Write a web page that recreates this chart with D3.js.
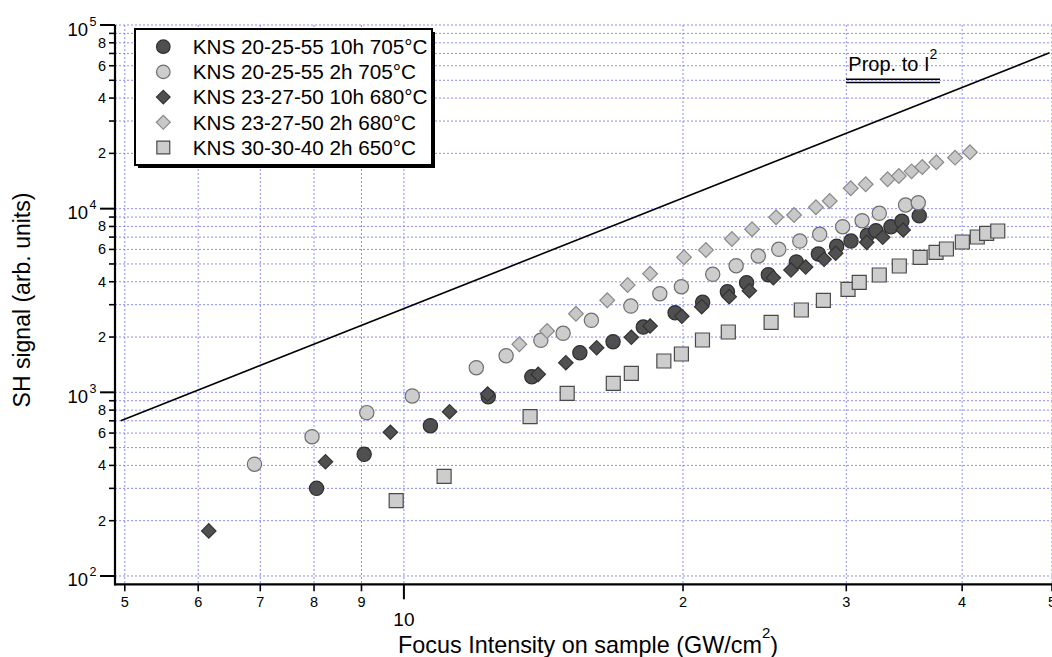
<!DOCTYPE html>
<html>
<head>
<meta charset="utf-8">
<script src="https://cdn.jsdelivr.net/npm/d3@7"></script>
<style>
  html, body { margin: 0; padding: 0; background: #fff; }
  svg { display: block; font-family: "Liberation Sans", Arial, Helvetica, sans-serif; }
</style>
</head>
<body>
<svg id="chart" width="1052" height="657"></svg>
<script>
// ---------------- data ----------------
const seriesNames = [
  "KNS 20-25-55 10h 705°C",
  "KNS 20-25-55 2h 705°C",
  "KNS 23-27-50 10h 680°C",
  "KNS 23-27-50 2h 680°C",
  "KNS 30-30-40 2h 650°C"
];

const darkCircleX = [8.05, 9.06, 10.68, 12.33, 13.74, 15.48, 16.81, 18.12, 19.61, 21.0, 22.33, 23.42, 24.72, 26.5, 27.99, 29.29, 30.35, 31.61, 32.29, 33.52, 34.44, 35.96];
const darkCircleY = [300, 460, 658, 947, 1216, 1643, 1887, 2268, 2714, 3092, 3531, 3953, 4370, 5124, 5665, 6239, 6665, 7161, 7586, 7977, 8534, 9157];

const lightCircleX = [6.90, 7.96, 9.12, 10.21, 11.97, 12.89, 14.05, 14.85, 15.93, 17.57, 18.88, 19.92, 21.53, 22.82, 24.11, 25.37, 26.73, 28.08, 29.73, 31.20, 32.56, 34.76, 35.87];
const lightCircleY = [406, 573, 775, 955, 1362, 1583, 1920, 2096, 2467, 2951, 3443, 3759, 4392, 4891, 5524, 6006, 6665, 7252, 7977, 8597, 9434, 10470, 10780];

const darkDiamondX = [6.16, 8.23, 9.67, 11.20, 12.31, 13.96, 14.95, 16.14, 17.59, 18.43, 19.94, 20.95, 22.43, 23.58, 25.03, 26.15, 27.12, 28.39, 29.22, 31.56, 32.84, 34.55];
const darkDiamondY = [176, 419, 606, 784, 979, 1253, 1450, 1750, 1994, 2297, 2594, 2926, 3317, 3574, 4209, 4634, 4811, 5301, 5715, 6557, 6983, 7652];

const lightDiamondX = [13.32, 14.27, 15.33, 16.57, 17.43, 18.43, 20.05, 21.17, 22.58, 23.74, 25.20, 26.35, 27.82, 28.79, 30.33, 31.48, 33.24, 34.18, 35.28, 36.23, 37.52, 39.30, 40.78];
const lightDiamondY = [1826, 2157, 2680, 3170, 3841, 4425, 5436, 5954, 6836, 7719, 8974, 9237, 10170, 11010, 12910, 13570, 14450, 15060, 15970, 16860, 17880, 18950, 20270];

const squareX = [9.81, 11.05, 13.68, 15.0, 16.82, 17.59, 19.07, 19.92, 20.99, 22.38, 24.89, 26.83, 28.34, 30.13, 30.98, 32.56, 34.22, 36.04, 37.49, 38.47, 40.02, 41.53, 42.51, 43.70];
const squareY = [257, 349, 737, 988, 1120, 1269, 1481, 1617, 1927, 2130, 2406, 2807, 3170, 3638, 3972, 4354, 4873, 5436, 5787, 6030, 6583, 7009, 7340, 7556];

// reference line proportional to I^2
const refLineX = [4.95, 49.7];
const refLineY = [700, 70600];

// axis ticks
const xTickValues = [5, 6, 7, 8, 9, 10, 20, 30, 40, 50];
const xTickLabels = ["5", "6", "7", "8", "9", "10", "2", "3", "4", "5"];
const xMajorTick = [10];
const yDecades = [100, 1000, 10000, 100000];
const yDecadeExp = ["2", "3", "4", "5"];
const yMinorMult = [2, 3, 4, 5, 6, 7, 8, 9];
const yMinorLabeled = [2, 4, 6, 8];

// ---------------- layout ----------------
const svg = d3.select("#chart");
const plot = { left: 115, right: 1052, top: 25, bottom: 584.3 };

const x = d3.scaleLog().domain([4.88, 50]).range([plot.left, plot.right]);
const y = d3.scaleLog().domain([90.1, 100000]).range([plot.bottom, plot.top]);

const gridColor = "#8c8cff";

// grid
const yGridVals = [];
yDecades.forEach(d => {
  yGridVals.push(d);
  if (d < 100000) yMinorMult.forEach(m => yGridVals.push(d * m));
});
svg.append("g").selectAll("line").data(yGridVals).join("line")
  .attr("x1", plot.left).attr("x2", plot.right)
  .attr("y1", d => y(d)).attr("y2", d => y(d))
  .attr("stroke", gridColor).attr("stroke-width", 1)
  .attr("stroke-dasharray", "2,2");
svg.append("g").selectAll("line").data(xTickValues).join("line")
  .attr("x1", d => x(d)).attr("x2", d => x(d))
  .attr("y1", plot.top).attr("y2", plot.bottom)
  .attr("stroke", gridColor).attr("stroke-width", 1)
  .attr("stroke-dasharray", "2,2");

// reference line
svg.append("path")
  .datum(refLineX.map((v, i) => [v, refLineY[i]]))
  .attr("d", d3.line().x(d => x(d[0])).y(d => y(d[1])))
  .attr("fill", "none").attr("stroke", "#000").attr("stroke-width", 1.6);

// axes lines
svg.append("line").attr("x1", plot.left).attr("x2", plot.left)
  .attr("y1", plot.top).attr("y2", plot.bottom + 1)
  .attr("stroke", "#000").attr("stroke-width", 2.2);
svg.append("line").attr("x1", plot.left - 1).attr("x2", plot.right)
  .attr("y1", plot.bottom).attr("y2", plot.bottom)
  .attr("stroke", "#000").attr("stroke-width", 2.2);

// y ticks
const yMinorVals = [];
yDecades.forEach(d => { if (d < 100000) yMinorMult.forEach(m => yMinorVals.push({v: d * m, m})); });
svg.append("g").selectAll("line").data(yDecades).join("line")
  .attr("x1", plot.left - 15).attr("x2", plot.left)
  .attr("y1", d => y(d)).attr("y2", d => y(d))
  .attr("stroke", "#000").attr("stroke-width", 2);
svg.append("g").selectAll("line").data(yMinorVals).join("line")
  .attr("x1", plot.left - 6).attr("x2", plot.left)
  .attr("y1", d => y(d.v)).attr("y2", d => y(d.v))
  .attr("stroke", "#000").attr("stroke-width", 1.6);
svg.append("g").selectAll("text").data(yMinorVals.filter(d => yMinorLabeled.includes(d.m))).join("text")
  .attr("x", plot.left - 9).attr("y", d => y(d.v) + 5)
  .attr("text-anchor", "end").attr("font-size", 14.5).attr("fill", "#000")
  .text(d => d.m);
const decG = svg.append("g").selectAll("g").data(yDecades).join("g");
decG.append("text")
  .attr("x", 88).attr("y", d => y(d) + 10.5)
  .attr("text-anchor", "end").attr("font-size", 18.5)
  .text("10");
decG.append("text")
  .attr("x", 89.5).attr("y", d => y(d) + 0.5)
  .attr("text-anchor", "start").attr("font-size", 12.5)
  .text((d, i) => yDecadeExp[i]);

// x ticks
svg.append("g").selectAll("line").data(xTickValues).join("line")
  .attr("x1", d => x(d)).attr("x2", d => x(d))
  .attr("y1", plot.bottom).attr("y2", d => plot.bottom + (xMajorTick.includes(d) ? 15 : 7))
  .attr("stroke", "#000").attr("stroke-width", d => xMajorTick.includes(d) ? 2 : 1.6);
svg.append("g").selectAll("text").data(xTickValues).join("text")
  .attr("x", d => x(d))
  .attr("y", d => xMajorTick.includes(d) ? 625.7 : 606.5)
  .attr("text-anchor", "middle")
  .attr("font-size", d => xMajorTick.includes(d) ? 19 : 14.5)
  .text((d, i) => xTickLabels[i]);

// axis titles
const xt = svg.append("text").attr("x", 588).attr("y", 653)
  .attr("text-anchor", "middle").attr("font-size", 23.4);
xt.append("tspan").text("Focus Intensity on sample (GW/cm");
xt.append("tspan").attr("dy", -15).attr("font-size", 15).text("2");
xt.append("tspan").attr("dy", 15).text(")");

svg.append("text")
  .attr("transform", "translate(30,300) rotate(-90)")
  .attr("text-anchor", "middle").attr("font-size", 23)
  .text("SH signal (arb. units)");

// annotation
const ann = svg.append("text").attr("x", 848.3).attr("y", 70.7).attr("font-size", 20);
ann.append("tspan").text("Prop. to I");
ann.append("tspan").attr("dy", -12).attr("font-size", 14).text("2");
svg.append("line").attr("x1", 846).attr("x2", 940).attr("y1", 79.3).attr("y2", 79.3)
  .attr("stroke", "#000").attr("stroke-width", 1.5);
svg.append("line").attr("x1", 846).attr("x2", 940).attr("y1", 82.5).attr("y2", 82.5)
  .attr("stroke", "#000").attr("stroke-width", 1.5);

// ---------------- markers ----------------
const styles = [
  { type: d3.symbolCircle, size: 160, fill: "#4f4f4f", stroke: "#2e2e2e", rot: 0 },
  { type: d3.symbolCircle, size: 160, fill: "#cdcdcd", stroke: "#6e6e6e", rot: 0 },
  { type: d3.symbolSquare, size: 104, fill: "#505050", stroke: "#333333", rot: 45 },
  { type: d3.symbolSquare, size: 108, fill: "#c8c8c8", stroke: "#8a8a8a", rot: 45 },
  { type: d3.symbolSquare, size: 196, fill: "#cdcdcd", stroke: "#4a4a4a", rot: 0 }
];
const seriesData = [
  darkCircleX.map((v, i) => [v, darkCircleY[i]]),
  lightCircleX.map((v, i) => [v, lightCircleY[i]]),
  darkDiamondX.map((v, i) => [v, darkDiamondY[i]]),
  lightDiamondX.map((v, i) => [v, lightDiamondY[i]]),
  squareX.map((v, i) => [v, squareY[i]])
];

seriesData.forEach((data, si) => {
  const st = styles[si];
  svg.append("g").selectAll("path").data(data).join("path")
    .attr("d", d3.symbol().type(st.type).size(st.size))
    .attr("transform", d => `translate(${x(d[0])},${y(d[1])}) rotate(${st.rot})`)
    .attr("fill", st.fill).attr("stroke", st.stroke).attr("stroke-width", 1.2);
});

// ---------------- legend ----------------
const lg = svg.append("g");
lg.append("rect").attr("x", 138).attr("y", 32).attr("width", 297).attr("height", 136).attr("fill", "#000");
lg.append("rect").attr("x", 135).attr("y", 29).attr("width", 297).attr("height", 136)
  .attr("fill", "#fff").attr("stroke", "#000").attr("stroke-width", 2);
const rows = lg.selectAll("g.row").data(seriesNames).join("g")
  .attr("transform", (d, i) => `translate(0,${46.7 + i * 25.2})`);
rows.append("path")
  .attr("d", (d, i) => d3.symbol().type(styles[i].type).size(styles[i].size * (i === 4 ? 0.85 : 0.9))())
  .attr("transform", (d, i) => `translate(163.3,0) rotate(${styles[i].rot})`)
  .attr("fill", (d, i) => styles[i].fill).attr("stroke", (d, i) => styles[i].stroke).attr("stroke-width", 1.2);
rows.append("text").attr("x", 192.7).attr("y", 7.2).attr("font-size", 20.7).text(d => d);
</script>
</body>
</html>
